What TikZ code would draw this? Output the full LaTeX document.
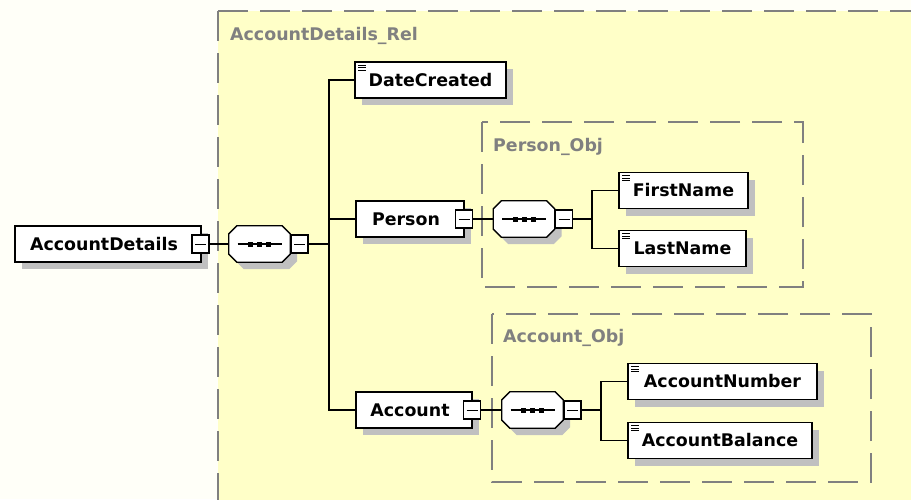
\documentclass[tikz,border=0pt]{standalone}
\usepackage{fontspec}
\setmainfont{DejaVu Sans}
\usetikzlibrary{calc}
\definecolor{bgyellow}{HTML}{FFFFC8}
\definecolor{bgwhite}{HTML}{FFFFF8}
\definecolor{shadowgray}{HTML}{C0C0C0}
\definecolor{dashgray}{HTML}{808080}

\newcommand\seqshape[1]{%
  \fill[shadowgray, transform canvas={shift={(7pt,-7pt)}}]
    ($(#1.north west)+(8,0)$) -- ($(#1.north east)+(-8,0)$) -- ($(#1.north east)+(0,8)$) -- ($(#1.south east)+(0,-8)$) -- ($(#1.south east)+(-8,0)$) -- ($(#1.south west)+(8,0)$) -- ($(#1.south west)+(0,-8)$) -- ($(#1.north west)+(0,8)$) -- cycle;
  \draw[fill=white, line width=1.3pt]
    ($(#1.north west)+(8,0)$) -- ($(#1.north east)+(-8,0)$) -- ($(#1.north east)+(0,8)$) -- ($(#1.south east)+(0,-8)$) -- ($(#1.south east)+(-8,0)$) -- ($(#1.south west)+(8,0)$) -- ($(#1.south west)+(0,-8)$) -- ($(#1.north west)+(0,8)$) -- cycle;
  \draw[line width=1.3pt] ($(#1.center)+(-22,0)$) -- ($(#1.center)+(22,0)$);
  \foreach \dx in {-9,0,9} {\fill ($(#1.center)+(\dx,0)+(-2.5,-2.5)$) rectangle ++(5,5);}
}

\begin{document}
\begin{tikzpicture}[x=1pt,y=-1pt,
  font=\fontsize{17.4}{20}\selectfont\bfseries,
  elem/.style={draw=black, line width=1.3pt, fill=white, minimum height=36pt, inner sep=0pt,
    preaction={fill=shadowgray, transform canvas={shift={(7pt,-7pt)}}}},
  leaf/.style={path picture={\foreach \yy in {3,5.5,8}{\draw[line width=0.9pt] ($(path picture bounding box.north west)+(3,\yy)$) -- ++(8,0);}}},
  collapse/.style={draw=black, line width=1.2pt, fill=white, minimum width=17pt, minimum height=18pt, inner sep=0pt,
    path picture={\draw[line width=1pt] ($(path picture bounding box.west)+(3,0)$) -- ($(path picture bounding box.east)+(-3,0)$);}},
  seq/.style={minimum width=61pt, minimum height=36pt, inner sep=0pt},
  conn/.style={draw=black, line width=1.3pt},
  groupbox/.style={draw=dashgray, line width=1.3pt, dash pattern=on 30pt off 12pt},
  grouplabel/.style={anchor=west, text=dashgray, inner sep=0pt}
]
\useasboundingbox (0,0) rectangle (911,499);
\clip (0,0) rectangle (911,499);
\fill[bgwhite] (0,0) rectangle (911,499);
\fill[bgyellow] (218,11) rectangle (940,530);
\draw[groupbox] (218,11) -- (940,11);
\draw[groupbox] (218,11) -- (218,530);
\draw[groupbox] (482,122) rectangle (803,287);
\draw[groupbox] (492,314) rectangle (871,482);

\node[grouplabel] (lrel) at (230,36) {AccountDetails\_Rel};
\node[grouplabel] (lper) at (493,147) {Person\_Obj};
\node[grouplabel] (lacc) at (503,338) {Account\_Obj};

% root
\node[elem, minimum width=186pt] (ad) at (108,244) {\kern-8pt AccountDetails};
\node[collapse] (adc) at (200.5,244) {};
\node[seq] (s1) at (259.5,244) {};
\seqshape{s1}
\node[collapse] (s1c) at (299.5,244) {};
\coordinate (f1) at (329,244);

% children
\node[elem, leaf, minimum width=151pt] (dc) at (430.5,80) {DateCreated};
\node[elem, minimum width=108pt] (pe) at (410,219) {\kern-8pt Person};
\node[collapse] (pec) at (464,219) {};
\node[seq] (s2) at (524,219) {};
\seqshape{s2}
\node[collapse] (s2c) at (564,219) {};
\coordinate (f2) at (592,219);
\node[elem, leaf, minimum width=129pt] (fn) at (683.5,190.5) {FirstName};
\node[elem, leaf, minimum width=127pt] (ln) at (682.5,248.5) {LastName};

\node[elem, minimum width=116pt] (ac) at (414,410) {\kern-8pt Account};
\node[collapse] (acc) at (472,410) {};
\node[seq] (s3) at (532.5,410) {};
\seqshape{s3}
\node[collapse] (s3c) at (572.5,410) {};
\coordinate (f3) at (601,410);
\node[elem, leaf, minimum width=189pt] (an) at (722.5,381.5) {AccountNumber};
\node[elem, leaf, minimum width=184pt] (ab) at (720,440.5) {AccountBalance};

% connectors
\draw[conn] (adc.east) -- (s1.west);
\draw[conn] (s1c.east) -- (f1);
\draw[conn] (f1) |- (dc.west);
\draw[conn] (f1) |- (pe.west);
\draw[conn] (f1) |- (ac.west);
\draw[conn] (pec.east) -- (s2.west);
\draw[conn] (s2c.east) -- (f2);
\draw[conn] (f2) |- (fn.west);
\draw[conn] (f2) |- (ln.west);
\draw[conn] (acc.east) -- (s3.west);
\draw[conn] (s3c.east) -- (f3);
\draw[conn] (f3) |- (an.west);
\draw[conn] (f3) |- (ab.west);
\end{tikzpicture}
\end{document}
